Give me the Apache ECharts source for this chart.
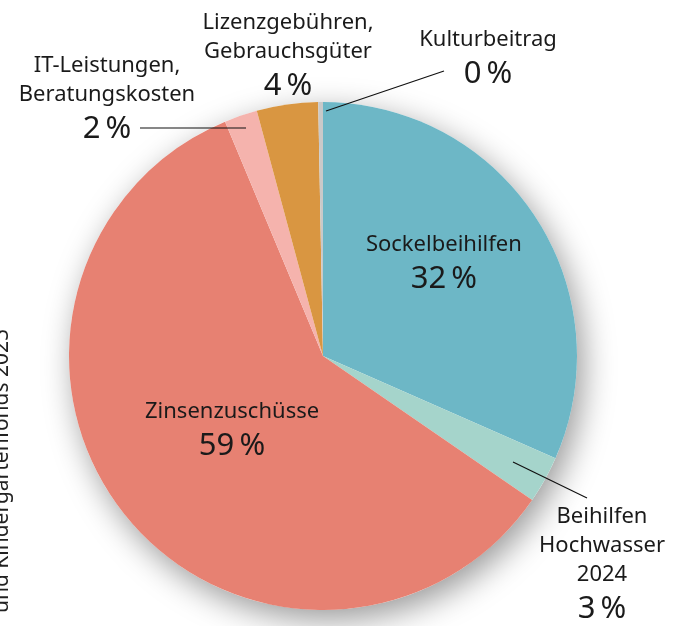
<!DOCTYPE html>
<html>
<head>
<meta charset="utf-8">
<script src="https://cdn.jsdelivr.net/npm/echarts@6/dist/echarts.min.js"></script>
<style>
  html, body { margin: 0; padding: 0; background: #fff; }
  #chart { width: 677px; height: 626px; }
</style>
</head>
<body>
<div id="chart"></div>
<script>
// shares of the fund, clockwise from 12 o'clock
var names = ['Sockelbeihilfen', 'Beihilfen\nHochwasser\n2024', 'Zinsenzuschüsse',
	'IT-Leistungen,\nBeratungskosten', 'Lizenzgebühren,\nGebrauchsgüter', 'Kulturbeitrag'];
var values = [31.6, 3.0, 59.1, 2.1, 3.9, 0.3];
var colors = ['#6db7c6', '#a5d4cb', '#e78172', '#f5b3ad', '#d99641', '#c9c9c9'];
var sideText = 'und Kindergartenfonds 2025';

// where the outside labels sit (label centre x, top y) and their leader lines
var outside = {
	1: { x: 602, y: 502, line: [[513, 462], [550, 480], [587, 498]] },
	3: { x: 107, y: 51, line: [[246, 128], [190, 128], [140, 128]] },
	4: { x: 288, y: 8, line: null },
	5: { x: 488, y: 25, line: [[326, 111], [385, 91], [444, 71]] }
};

var font = '"Noto Sans", "Open Sans", sans-serif';
var center = [323, 356];
var radius = 254;

function buildData(withColor) {
	var list = [];
	for (var i = 0; i < names.length; i++) {
		var inside = (i == 0 || i == 2);
		list.push({
			name: names[i],
			value: values[i],
			itemStyle: { color: withColor ? colors[i] : 'rgba(0,0,0,0)' },
			label: { position: inside ? 'inside' : 'outside' },
			labelLine: { show: !!(outside[i] && outside[i].line) }
		});
	}
	return list;
}

var myChart = echarts.init(document.getElementById('chart'));
myChart.setOption({
	animation: false,
	graphic: [{
		type: 'text',
		x: 2,
		y: 471,
		rotation: Math.PI / 2,
		style: {
			text: sideText,
			font: '21px ' + font,
			fill: '#222',
			align: 'center',
			verticalAlign: 'middle'
		}
	}],
	series: [{
		// plain disc underneath, only to cast the shadow
		type: 'pie',
		center: center,
		radius: radius,
		silent: true,
		z: 1,
		label: { show: false },
		labelLine: { show: false },
		itemStyle: {
			color: '#ffffff',
			shadowBlur: 32,
			shadowColor: 'rgba(0,0,0,0.4)',
			shadowOffsetX: 6,
			shadowOffsetY: 10
		},
		data: [{ value: 1, name: '' }]
	}, {
		// the coloured slices
		type: 'pie',
		center: center,
		radius: radius,
		startAngle: 90,
		clockwise: true,
		silent: true,
		z: 2,
		label: { show: false },
		labelLine: { show: false },
		data: buildData(true)
	}, {
		// same slices, transparent, so the labels and leader lines sit on top
		type: 'pie',
		center: center,
		radius: radius,
		startAngle: 90,
		clockwise: true,
		silent: true,
		z: 3,
		avoidLabelOverlap: false,
		label: {
			color: '#1a1a1a',
			fontFamily: font,
			formatter: function(p) {
				return '{n|' + p.name + '}\n{p|' + Math.round(p.percent) + '\u2009%}';
			},
			rich: {
				n: { fontSize: 22, lineHeight: 29, fontFamily: font, color: '#1a1a1a', align: 'center' },
				p: { fontSize: 31, lineHeight: 40, fontFamily: font, color: '#1a1a1a', align: 'center' }
			}
		},
		labelLine: {
			lineStyle: { color: '#111', width: 1.2 },
			length: 20,
			length2: 20
		},
		labelLayout: function(params) {
			var o = outside[params.dataIndex];
			if (o) {
				var res = { x: o.x, y: o.y, align: 'center', verticalAlign: 'top' };
				if (o.line) res.labelLinePoints = o.line;
				return res;
			}
			if (params.dataIndex == 0) {
				return { dx: 12, dy: -20 };
			}
			return { dx: 10, dy: -6 };
		},
		data: buildData(false)
	}]
});
</script>
</body>
</html>
